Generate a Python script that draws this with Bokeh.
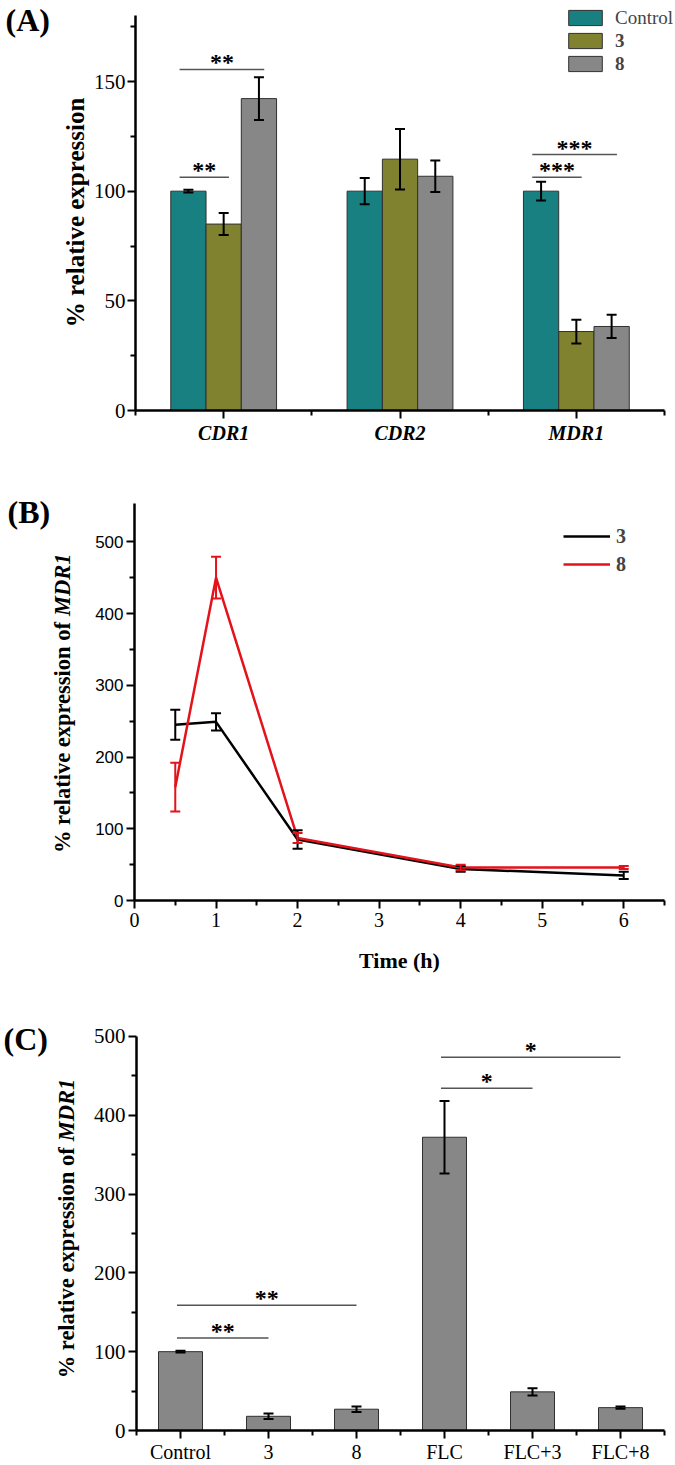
import math
from bokeh.plotting import figure
from bokeh.models import (ColumnDataSource, Whisker, TeeHead, Legend, LegendItem,
                          FixedTicker, Range1d)
from bokeh.layouts import column, row
from bokeh.embed import file_html
from bokeh.resources import INLINE
from bokeh.core.properties import value

# ------------------------------------------------------------------ data
# (A) relative expression of efflux-pump genes
genes = ["CDR1", "CDR2", "MDR1"]
series_A = ["Control", "3", "8"]
control_A = [100.0, 100.0, 100.0]
control_A_err = [0.6, 6.0, 4.3]
cpd3_A = [85.0, 114.6, 36.0]
cpd3_A_err = [5.0, 13.8, 5.4]
cpd8_A = [142.2, 106.8, 38.3]
cpd8_A_err = [9.7, 7.2, 5.3]
yticks_A = [0, 50, 100, 150]
# significance brackets: (gene index, from series, to series, level, stars)
sig_A = [(0, 0, 1, 106.4, "**"), (0, 0, 2, 155.5, "**"),
         (2, 0, 1, 106.4, "***"), (2, 0, 2, 116.7, "***")]

# (B) time course of MDR1 expression
time_h = [0.5, 1, 2, 4, 6]
mdr1_cpd3 = [245, 249, 85, 44, 35]
mdr1_cpd3_err = [21, 12, 13, 4, 5]
mdr1_cpd8 = [158, 450, 87, 46, 46]
mdr1_cpd8_err = [34, 29, 7, 4, 2]
yticks_B = [0, 100, 200, 300, 400, 500]
xticks_B = [0, 1, 2, 3, 4, 5, 6]

# (C) MDR1 expression with fluconazole
treatments_C = ["Control", "3", "8", "FLC", "FLC+3", "FLC+8"]
mdr1_C = [100, 18, 27, 372, 49, 29]
mdr1_C_err = [1.2, 3.5, 3.5, 46, 4.6, 1.5]
yticks_C = [0, 100, 200, 300, 400, 500]
# (from bar, to bar, level, stars)
sig_C = [(0, 1, 117.4, "**"), (0, 2, 159.0, "**"), (3, 4, 434.0, "*"), (3, 5, 473.5, "*")]

# ------------------------------------------------------------------ style
SERIF = "Liberation Serif"
SANS = "Liberation Sans"
TEAL, OLIVE, GREY = "#188080", "#80822F", "#878787"
EDGE = "#303030"
SIGC = "#555555"
RED = "#E3121B"

TOTAL_W = 675
LW = 90                   # strip holding the panel letter and the y title
MW = TOTAL_W - LW         # main figure width
AXIS_X = 134              # page x of every y axis
FB_L = AXIS_X - LW        # main figure left border


def make_fig(height, top, frame_h, frame_w, xr, yr):
    bottom = height - top - frame_h
    p = figure(width=MW, height=height, x_range=Range1d(*xr), y_range=Range1d(*yr),
               output_backend="svg", toolbar_location=None, tools="",
               min_border_left=FB_L, min_border_right=MW - FB_L - frame_w,
               min_border_top=top, min_border_bottom=bottom)
    p.outline_line_color = None
    p.xgrid.visible = False
    p.ygrid.visible = False
    for ax in (p.xaxis[0], p.yaxis[0]):
        ax.axis_line_width = 2.5
        ax.axis_line_color = "black"
        ax.major_tick_line_width = 2
        ax.minor_tick_line_width = 2
        ax.major_tick_line_color = "black"
        ax.minor_tick_line_color = "black"
        ax.major_tick_in = 0
        ax.major_tick_out = 8
        ax.minor_tick_in = 0
        ax.minor_tick_out = 5
        ax.major_label_text_color = "black"
        ax.major_label_text_font = SERIF
        ax.major_label_text_font_size = "20px"
    p.yaxis.major_label_text_font_size = "21px"
    return p


def make_strip(fig_top, height, ft, fb):
    # same vertical frame as its neighbour; y range in page pixels (flipped)
    s = figure(width=LW, height=height, x_range=Range1d(0, LW), y_range=Range1d(fb, ft),
               output_backend="svg", toolbar_location=None, tools="",
               x_axis_location=None, y_axis_location=None,
               min_border_left=0, min_border_right=0,
               min_border_top=ft - fig_top, min_border_bottom=fig_top + height - fb)
    s.outline_line_color = None
    s.xgrid.visible = False
    s.ygrid.visible = False
    return s


def strip_text(s, x, y, text, size, style="bold", align="left", angle=0.0):
    s.text(x=[x], y=[y], text=[text], text_font=value(SERIF), text_font_size=f"{size}px",
           text_font_style=style, text_align=align, text_baseline="middle",
           angle=angle, text_color="black")


def mixed_ytitle(s, cx, cy, size, w_total, w_ital, gap):
    # reads bottom-to-top, the italic gene name at the top end
    junction = cy - w_total / 2 + w_ital
    strip_text(s, cx, junction + gap / 2, "% relative expression of", size,
               style="bold", align="right", angle=math.pi / 2)
    strip_text(s, cx, junction - gap / 2, "MDR1", size,
               style="bold italic", align="left", angle=math.pi / 2)


def whisker(p, src, color, base):
    p.add_layout(Whisker(source=src, base=base, upper="hi", lower="lo", level="overlay",
                         line_color=color, line_width=2,
                         upper_head=TeeHead(size=10, line_color=color, line_width=2),
                         lower_head=TeeHead(size=10, line_color=color, line_width=2)))


def sig_glyphs(p, x0, x1, y, t):
    src = ColumnDataSource(dict(x0=x0, x1=x1, y=y, xm=[(a + b) / 2 for a, b in zip(x0, x1)], t=t))
    p.segment(x0="x0", y0="y", x1="x1", y1="y", source=src, line_color=SIGC, line_width=1.5)
    p.text(x="xm", y="y", text="t", source=src, text_font=value(SERIF), text_font_style="bold",
           text_font_size="24px", text_align="center", text_baseline="alphabetic",
           y_offset=-7, text_color="black")


def style_legend(lg, gw, gh, lh, sp, stand, size, fs):
    lg.glyph_width = gw
    lg.glyph_height = gh
    lg.label_height = lh
    lg.spacing = sp
    lg.padding = 0
    lg.margin = 0
    lg.label_standoff = stand
    lg.border_line_color = None
    lg.background_fill_alpha = 0
    lg.label_text_font = SERIF
    lg.label_text_font_size = f"{size}px"
    lg.label_text_font_style = fs


# ================================================================== (A)
A_top, A_ft, A_fb, A_h = 0, 0, 410, 455
kA = 329 / 150.0                      # px per unit
pxA = 530 / 3.0                       # px per gene group
A_fw = TOTAL_W - AXIS_X               # frame to the right edge (legend room)
xrA = (0.5, 0.5 + A_fw / pxA)
yrA = (0, (A_fb - A_ft) / kA)
pA = make_fig(A_h, A_ft - A_top, A_fb - A_ft, A_fw, xrA, yrA)

xA = [i + 1 for i in range(len(genes))]
offs = [-0.2, 0.0, 0.2]
valsA = [control_A, cpd3_A, cpd8_A]
errsA = [control_A_err, cpd3_A_err, cpd8_A_err]
colsA = [TEAL, OLIVE, GREY]
rendA = []
for k in range(3):
    src = ColumnDataSource(dict(
        x=[x + offs[k] for x in xA], top=valsA[k],
        lo=[v - e for v, e in zip(valsA[k], errsA[k])],
        hi=[v + e for v, e in zip(valsA[k], errsA[k])]))
    r = pA.vbar(x="x", top="top", width=0.2, source=src, fill_color=colsA[k],
                line_color=EDGE, line_width=1)
    rendA.append(r)
    whisker(pA, src, "black", "x")

sig_glyphs(pA,
           [xA[g] + offs[i] - 0.05 for g, i, j, lev, t in sig_A],
           [xA[g] + offs[j] + 0.03 for g, i, j, lev, t in sig_A],
           [lev for g, i, j, lev, t in sig_A],
           [t for g, i, j, lev, t in sig_A])

pA.xaxis.ticker = FixedTicker(ticks=xA, minor_ticks=[x - 0.5 for x in xA] + [xA[-1] + 0.5])
pA.xaxis.bounds = (0.5, len(genes) + 0.5)
pA.xaxis.major_label_overrides = {x: g for x, g in zip(xA, genes)}
pA.xaxis.major_label_text_font_style = "bold italic"
pA.xaxis.major_label_standoff = 3
pA.yaxis.ticker = FixedTicker(ticks=yticks_A, minor_ticks=[t + 25 for t in yticks_A])
pA.yaxis.bounds = (0, 180)
pA.yaxis.major_label_standoff = 2

legA1 = Legend(items=[LegendItem(label=series_A[0], renderers=[rendA[0]])],
               location=(563 - AXIS_X, A_fb - 29))
legA2 = Legend(items=[LegendItem(label=series_A[1], renderers=[rendA[1]]),
                      LegendItem(label=series_A[2], renderers=[rendA[2]])],
               location=(563 - AXIS_X, A_fb - 75))
style_legend(legA1, 42, 19, 23, 0, 9, 19, "normal")
style_legend(legA2, 42, 19, 23, 0, 9, 19, "bold")
pA.add_layout(legA1)
pA.add_layout(legA2)

sA = make_strip(A_top, A_h, A_ft, A_fb)
strip_text(sA, 5, 19, "(A)", 32)
strip_text(sA, 75, 212, "% relative expression", 25, align="center", angle=math.pi / 2)

# ================================================================== (B)
B_top, B_ft, B_fb, B_h = 455, 470, 900, 530
kB = 358.7 / 500.0
xrB = (0, 6.5)
B_fw = 530
yrB = (0, (B_fb - B_ft) / kB)
pB = make_fig(B_h, B_ft - B_top, B_fb - B_ft, B_fw, xrB, yrB)

src3 = ColumnDataSource(dict(t=time_h, y=mdr1_cpd3,
                             lo=[v - e for v, e in zip(mdr1_cpd3, mdr1_cpd3_err)],
                             hi=[v + e for v, e in zip(mdr1_cpd3, mdr1_cpd3_err)]))
src8 = ColumnDataSource(dict(t=time_h, y=mdr1_cpd8,
                             lo=[v - e for v, e in zip(mdr1_cpd8, mdr1_cpd8_err)],
                             hi=[v + e for v, e in zip(mdr1_cpd8, mdr1_cpd8_err)]))
r3 = pB.line("t", "y", source=src3, line_color="black", line_width=2.5)
whisker(pB, src3, "black", "t")
r8 = pB.line("t", "y", source=src8, line_color=RED, line_width=2.5)
whisker(pB, src8, RED, "t")

pB.xaxis.ticker = FixedTicker(ticks=xticks_B, minor_ticks=[t + 0.5 for t in xticks_B])
pB.xaxis.major_label_standoff = 4
pB.xaxis.axis_label = "Time (h)"
pB.xaxis.axis_label_text_font = SERIF
pB.xaxis.axis_label_text_font_size = "22px"
pB.xaxis.axis_label_text_font_style = "bold"
pB.xaxis.axis_label_text_color = "black"
pB.xaxis.axis_label_standoff = 18
pB.yaxis.ticker = FixedTicker(ticks=yticks_B, minor_ticks=[t + 50 for t in yticks_B[:-1]])
pB.yaxis.bounds = (0, (B_fb - 503) / kB)
pB.yaxis.major_label_text_font = SANS
pB.yaxis.major_label_text_font_size = "17px"
pB.yaxis.major_label_standoff = 3

legB = Legend(items=[LegendItem(label="3", renderers=[r3]), LegendItem(label="8", renderers=[r8])],
              location=(563 - AXIS_X, B_fb - 576))
style_legend(legB, 47, 24, 24, 4, 6, 20, "bold")
pB.add_layout(legB)

sB = make_strip(B_top, B_h, B_ft, B_fb)
strip_text(sB, 7, 511, "(B)", 32)
mixed_ytitle(sB, 62, 712, 22.5, 295, 54, 6)

# ================================================================== (C)
C_top, C_ft, C_fb, C_h = 985, 1000, 1432, 480
kC = (C_fb - 1036) / 500.0
xC = list(range(len(treatments_C)))
xrC = (-0.5, len(treatments_C) - 0.5)
C_fw = 530
yrC = (0, (C_fb - C_ft) / kC)
pC = make_fig(C_h, C_ft - C_top, C_fb - C_ft, C_fw, xrC, yrC)

srcC = ColumnDataSource(dict(x=xC, top=mdr1_C,
                             lo=[v - e for v, e in zip(mdr1_C, mdr1_C_err)],
                             hi=[v + e for v, e in zip(mdr1_C, mdr1_C_err)]))
pC.vbar(x="x", top="top", width=0.5, source=srcC, fill_color=GREY, line_color=EDGE, line_width=1)
whisker(pC, srcC, "black", "x")

sig_glyphs(pC,
           [xC[i] - 0.04 for i, j, lev, t in sig_C],
           [xC[j] for i, j, lev, t in sig_C],
           [lev for i, j, lev, t in sig_C],
           [t for i, j, lev, t in sig_C])

pC.xaxis.ticker = FixedTicker(ticks=xC, minor_ticks=[x - 0.5 for x in xC] + [xC[-1] + 0.5])
pC.xaxis.major_label_overrides = {x: t for x, t in zip(xC, treatments_C)}
pC.xaxis.major_label_standoff = 2
pC.yaxis.ticker = FixedTicker(ticks=yticks_C, minor_ticks=[t + 50 for t in yticks_C[:-1]])
pC.yaxis.bounds = (0, 500)
pC.yaxis.major_label_standoff = 3

sC = make_strip(C_top, C_h, C_ft, C_fb)
strip_text(sC, 3, 1039, "(C)", 32)
mixed_ytitle(sC, 66, 1238, 22.5, 295, 54, 6)

layout = column(row(sA, pA, spacing=0), row(sB, pB, spacing=0), row(sC, pC, spacing=0), spacing=0)
open("out.html", "w").write(file_html(layout, INLINE))
